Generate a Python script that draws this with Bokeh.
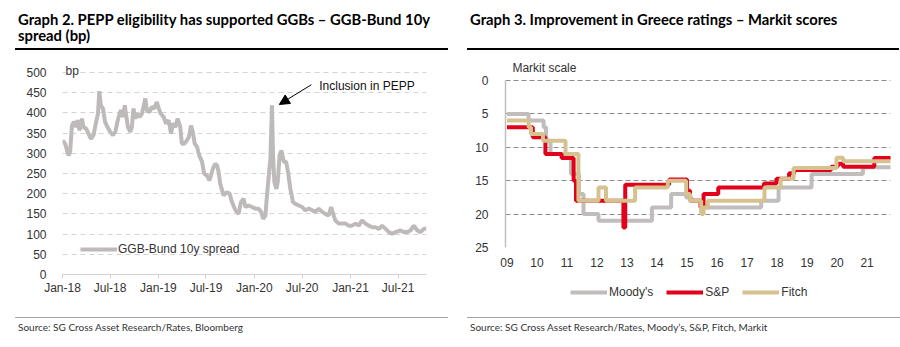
import pandas as pd
from bokeh.plotting import figure
from bokeh.models import (Range1d, FixedTicker, DatetimeTickFormatter, Label, Arrow,
                          NormalHead, Legend, LegendItem, Div, ColumnDataSource)
from bokeh.layouts import row, column
from bokeh.embed import file_html
from bokeh.resources import INLINE

# ---------------- data: Graph 2 ----------------
spread_dates = [
    "2018-01-01", "2018-01-11", "2018-01-24", "2018-01-30", "2018-02-06", "2018-02-14", "2018-02-22",
    "2018-02-27", "2018-03-07", "2018-03-16", "2018-03-22", "2018-04-01", "2018-04-10", "2018-04-19",
    "2018-04-29", "2018-05-09", "2018-05-16", "2018-05-21", "2018-05-27", "2018-06-04", "2018-06-12",
    "2018-06-21", "2018-07-02", "2018-07-12", "2018-07-21", "2018-07-29", "2018-08-06", "2018-08-12",
    "2018-08-19", "2018-08-26", "2018-08-31", "2018-09-07", "2018-09-16", "2018-09-22", "2018-09-28",
    "2018-10-05", "2018-10-11", "2018-10-21", "2018-10-30", "2018-11-05", "2018-11-12", "2018-11-18",
    "2018-11-28", "2018-12-07", "2018-12-16", "2018-12-26", "2019-01-02", "2019-01-10", "2019-01-21",
    "2019-01-30", "2019-02-09", "2019-02-18", "2019-02-25", "2019-03-06", "2019-03-15", "2019-03-25",
    "2019-03-31", "2019-04-09", "2019-04-19", "2019-04-27", "2019-05-05", "2019-05-12", "2019-05-19",
    "2019-05-28", "2019-06-05", "2019-06-16", "2019-06-24", "2019-07-05", "2019-07-14", "2019-07-20",
    "2019-07-27", "2019-08-05", "2019-08-12", "2019-08-18", "2019-08-24", "2019-09-06", "2019-09-19",
    "2019-09-29", "2019-10-08", "2019-10-21", "2019-11-02", "2019-11-11", "2019-11-21", "2019-11-28",
    "2019-12-10", "2019-12-23", "2020-01-05", "2020-01-17", "2020-01-27", "2020-02-03", "2020-02-12",
    "2020-02-18", "2020-02-25", "2020-03-02", "2020-03-08", "2020-03-12", "2020-03-17", "2020-03-25",
    "2020-03-30", "2020-04-06", "2020-04-13", "2020-04-22", "2020-05-01", "2020-05-08", "2020-05-17",
    "2020-05-27", "2020-06-05", "2020-06-18", "2020-07-01", "2020-07-13", "2020-07-26", "2020-08-08",
    "2020-08-20", "2020-09-02", "2020-09-15", "2020-09-27", "2020-10-10", "2020-10-19", "2020-10-27",
    "2020-11-04", "2020-11-17", "2020-11-30", "2020-12-13", "2020-12-25", "2021-01-07", "2021-01-20",
    "2021-02-01", "2021-02-14", "2021-02-27", "2021-03-11", "2021-03-24", "2021-04-06", "2021-04-19",
    "2021-05-01", "2021-05-14", "2021-05-27", "2021-06-08", "2021-06-21", "2021-07-10", "2021-07-23",
    "2021-08-04", "2021-08-17", "2021-08-30", "2021-09-12", "2021-09-24", "2021-10-07", "2021-10-17",
]
spread_bp = [
    332, 324, 295, 303, 369, 378, 365,
    382, 357, 386, 365, 361, 349, 336,
    345, 378, 398, 454, 419, 411, 378,
    365, 353, 345, 353, 378, 398, 407,
    390, 419, 394, 365, 353, 365, 411,
    386, 398, 390, 398, 415, 436, 407,
    402, 415, 411, 427, 411, 398, 390,
    374, 382, 349, 374, 365, 386, 365,
    324, 324, 332, 340, 369, 353, 324,
    316, 295, 279, 250, 245, 233, 245,
    262, 274, 270, 254, 225, 196, 204,
    200, 179, 159, 150, 179, 188, 167,
    171, 167, 163, 163, 155, 138, 146,
    196, 245, 287, 419, 295, 229, 212,
    229, 295, 307, 279, 279, 254, 212,
    179, 175, 171, 167, 159, 163, 159,
    155, 163, 155, 150, 146, 167, 150,
    134, 126, 126, 126, 121, 121, 126,
    121, 134, 126, 121, 117, 117, 113,
    121, 113, 105, 101, 105, 109, 105,
    105, 109, 121, 109, 105, 113, 113,
]
spread_ticks = ["2018-01-01", "2018-07-01", "2019-01-01", "2019-07-01",
                "2020-01-01", "2020-07-01", "2021-01-01", "2021-07-01"]
spread_yticks = [0, 50, 100, 150, 200, 250, 300, 350, 400, 450, 500]

# ---------------- data: Graph 3 ----------------
moodys_years = [2009.0, 2009.72, 2010.22, 2010.30, 2010.45, 2011.13, 2011.40, 2011.55, 2012.05,
                2013.83, 2014.47, 2014.97, 2015.15, 2015.52, 2017.47, 2018.05, 2019.15, 2020.86, 2021.80]
moodys_vals = [5, 6, 7, 9, 11, 14, 17, 20, 21,
               19, 17, 17.5, 18, 19, 18, 16, 14, 13, 13]

sp_years = [2009.0, 2009.86, 2010.28, 2010.82, 2011.22, 2011.30, 2012.88, 2012.94, 2014.40,
            2015.0, 2015.10, 2015.45, 2015.55, 2016.04, 2017.56, 2017.98, 2018.40, 2018.57,
            2019.80, 2020.02, 2020.20, 2021.24, 2021.80]
sp_vals = [7, 8.5, 11, 11.6, 15, 18, 22, 15.6, 14.8,
           16.5, 18, 19, 17, 16, 15.4, 14.7, 13.9, 13.4,
           12.9, 12.45, 12.9, 11.6, 11.6]

fitch_years = [2009.0, 2009.72, 2009.80, 2010.20, 2010.95, 2011.38, 2012.05, 2012.30, 2013.27,
               2014.36, 2014.97, 2015.10, 2015.47, 2015.55, 2015.69, 2017.58, 2018.12, 2018.55,
               2019.98, 2020.20, 2021.80]
fitch_vals = [6, 7, 8, 9, 11, 18, 16, 18, 16,
              15, 17, 18, 20, 19, 18, 16, 14.7, 13.1,
              11.55, 12.1, 12.1]

rating_years = list(range(2009, 2022))
rating_labels = ["09", "10", "11", "12", "13", "14", "15", "16", "17", "18", "19", "20", "21"]
rating_yticks = [0, 5, 10, 15, 20, 25]

# ---------------- helpers ----------------
def ms(d):
    return pd.Timestamp(d).value / 1e6

AX_FONT = "Liberation Sans"
TXT = "#333333"
C_GREY, C_RED, C_TAN = "#C0BDBC", "#E2001A", "#D5C28F"
NAN = float("nan")

# ---------------- Graph 2 ----------------
p1 = figure(width=450, height=265, x_axis_type="datetime", output_backend="svg",
            toolbar_location=None, min_border_left=62, min_border_right=24,
            min_border_top=12, min_border_bottom=43,
            x_range=Range1d(ms("2018-01-01"), ms("2021-10-17")), y_range=Range1d(0, 520))
p1.outline_line_color = None
p1.xgrid.grid_line_color = None
p1.ygrid.grid_line_color = "#D4D4D4"
p1.ygrid.grid_line_dash = "5 4"
p1.yaxis.ticker = FixedTicker(ticks=spread_yticks)
p1.xaxis.ticker = FixedTicker(ticks=[ms(d) for d in spread_ticks])
p1.xaxis.formatter = DatetimeTickFormatter(days="%b-%y", months="%b-%y", years="%b-%y")
p1.yaxis.axis_line_color = None
p1.yaxis.major_tick_line_color = None
p1.yaxis.minor_tick_line_color = None
p1.yaxis.major_label_standoff = 10
p1.xaxis.axis_line_color = "#D0D0D0"
p1.xaxis.major_tick_line_color = "#D0D0D0"
p1.xaxis.major_tick_out = 4
p1.xaxis.major_tick_in = 0
p1.xaxis.minor_tick_line_color = None
p1.xaxis.major_label_standoff = 2
for ax in (p1.xaxis, p1.yaxis):
    ax.major_label_text_font = AX_FONT
    ax.major_label_text_font_size = "12px"
    ax.major_label_text_color = TXT

src1 = ColumnDataSource(dict(x=[ms(d) for d in spread_dates], y=spread_bp))
r1 = p1.line("x", "y", source=src1, line_color="#BEBAB9", line_width=4)
leg1 = Legend(items=[LegendItem(label="GGB-Bund 10y spread", renderers=[r1])],
              location=(18, 15), padding=0, margin=0, glyph_width=37, label_standoff=1,
              background_fill_alpha=0, border_line_color=None,
              label_text_font=AX_FONT, label_text_font_size="12px", label_text_color=TXT)
p1.add_layout(leg1)
p1.add_layout(Label(x=ms("2018-01-01"), y=500, x_offset=3, y_offset=2, text="bp",
                    text_baseline="middle",
                    text_font=AX_FONT, text_font_size="12px", text_color=TXT,
                    background_fill_color="white"))
p1.add_layout(Label(x=ms("2020-09-04"), y=468, text="Inclusion in PEPP", text_baseline="middle",
                    text_font=AX_FONT, text_font_size="12px", text_color="#111111"))
p1.add_layout(Arrow(end=NormalHead(size=10, fill_color="black", line_color="black"),
                    x_start=ms("2020-08-05"), y_start=470, x_end=ms("2020-04-05"), y_end=421,
                    line_color="black", line_width=1))

# ---------------- Graph 3 ----------------
p2 = figure(width=450, height=228, output_backend="svg", toolbar_location=None,
            min_border_left=55, min_border_right=10, min_border_top=6, min_border_bottom=33,
            x_range=Range1d(2008.95, 2021.78), y_range=Range1d(25, -3.3))
p2.outline_line_color = None
p2.xgrid.grid_line_color = None
p2.ygrid.grid_line_color = "#8C8C8C"
p2.ygrid.grid_line_dash = "5 3"
p2.yaxis.ticker = FixedTicker(ticks=rating_yticks)
p2.yaxis.bounds = (0, 25)
p2.xaxis.ticker = FixedTicker(ticks=rating_years)
p2.xaxis.major_label_overrides = {y: l for y, l in zip(rating_years, rating_labels)}
p2.yaxis.axis_line_color = "#BFBFBF"
p2.yaxis.axis_line_width = 1.5
p2.yaxis.major_tick_line_color = None
p2.yaxis.minor_tick_line_color = None
p2.yaxis.major_label_standoff = 11
p2.xaxis.axis_line_color = None
p2.xaxis.major_tick_line_color = None
p2.xaxis.minor_tick_line_color = None
p2.xaxis.major_label_standoff = 4
for ax in (p2.xaxis, p2.yaxis):
    ax.major_label_text_font = AX_FONT
    ax.major_label_text_font_size = "12px"
    ax.major_label_text_color = TXT

p2.step(moodys_years, moodys_vals, mode="after", line_color=C_GREY, line_width=4)
p2.step(sp_years, sp_vals, mode="after", line_color=C_RED, line_width=4)
p2.step(fitch_years, fitch_vals, mode="after", line_color=C_TAN, line_width=4)
p2.add_layout(Label(x=2009.18, y=0, y_offset=6, text="Markit scale", text_baseline="bottom",
                    text_font=AX_FONT, text_font_size="12px", text_color=TXT))

# legend strip below Graph 3 (legend keys only; key renderers hold no visible data)
p3 = figure(width=450, height=37, output_backend="svg", toolbar_location=None,
            x_axis_location=None, y_axis_location=None,
            min_border_left=0, min_border_right=0, min_border_top=0, min_border_bottom=0,
            x_range=Range1d(0, 1), y_range=Range1d(0, 1))
p3.outline_line_color = None
p3.grid.visible = False
km = p3.line([NAN], [NAN], line_color=C_GREY, line_width=4)
ks = p3.line([NAN], [NAN], line_color=C_RED, line_width=4)
kf = p3.line([NAN], [NAN], line_color=C_TAN, line_width=4)
leg2 = Legend(items=[LegendItem(label="Moody's", renderers=[km]),
                     LegendItem(label="S&P", renderers=[ks]),
                     LegendItem(label="Fitch", renderers=[kf])],
              orientation="horizontal", location=(65, 15), padding=0, margin=0,
              glyph_width=37, label_standoff=2, spacing=13,
              background_fill_alpha=0, border_line_color=None,
              label_text_font=AX_FONT, label_text_font_size="12px", label_text_color=TXT)
p3.add_layout(leg2)

# ---------------- titles / sources ----------------
TITLE_CSS = ("box-sizing:border-box;height:50px;padding-top:11px;padding-left:3px;"
             "border-bottom:2px solid #000;font-family:Lato;font-weight:bold;font-size:14.8px;"
             "line-height:16px;color:#000;white-space:nowrap;")
SRC_CSS = ("box-sizing:border-box;margin-top:0px;border-top:1px solid #A6A6A6;padding-top:3px;"
           "padding-left:3px;font-family:Lato;font-size:10px;line-height:13px;color:#333;")

t1 = Div(text=f'<div style="margin-left:15px;width:433px;{TITLE_CSS}">'
              'Graph 2. PEPP eligibility has supported GGBs – GGB-Bund 10y<br>spread (bp)</div>',
         width=450, height=52, margin=0)
t2 = Div(text=f'<div style="margin-left:17px;width:432px;{TITLE_CSS}">'
              'Graph 3. Improvement in Greece ratings – Markit scores</div>',
         width=450, height=52, margin=0)
s1 = Div(text=f'<div style="margin-left:15px;width:433px;{SRC_CSS}">'
              'Source: SG Cross Asset Research/Rates, Bloomberg</div>',
         width=450, height=30, margin=0)
s2 = Div(text=f'<div style="margin-left:17px;width:433px;{SRC_CSS}">'
              'Source: SG Cross Asset Research/Rates, Moody’s, S&amp;P, Fitch, Markit</div>',
         width=450, height=30, margin=0)

layout = row(column(t1, p1, s1, spacing=0), column(t2, p2, p3, s2, spacing=0), spacing=0)

open("out.html", "w").write(file_html(layout, INLINE))
